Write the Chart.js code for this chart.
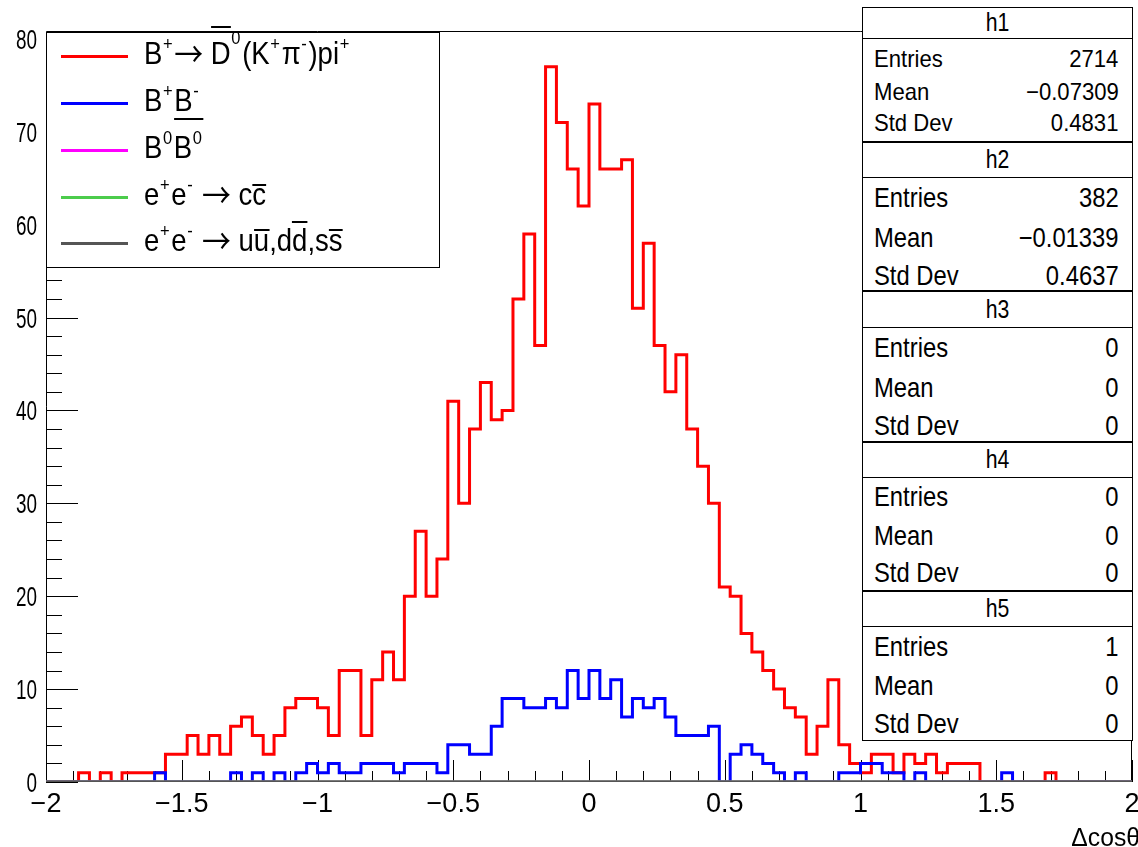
<!DOCTYPE html>
<html>
<head>
<meta charset="utf-8">
<title>Δcosθ</title>
<script src="https://cdn.jsdelivr.net/npm/chart.js@4.4.1/dist/chart.umd.min.js"></script>
<style>
  body { margin: 0; background: #fff; }
  #page { position: relative; width: 1138px; height: 847px; overflow: hidden; font-family: "Liberation Sans", Arial, sans-serif; color: #000; }
  #chart { position: absolute; left: 0; top: 0; }
  .box { position: absolute; background: #fff; border: 1.5px solid #000; box-sizing: border-box; }
  .legend-line { position: absolute; left: 61px; width: 67px; height: 3px; }
  .legend-text { position: absolute; left: 144px; font-size: 32px; line-height: 32px; white-space: nowrap; transform: scaleX(0.86); transform-origin: 0 50%; }
  sup { font-size: 60%; line-height: 0; vertical-align: 0; position: relative; top: -0.75em; margin: 0 0.1em 0 0.04em; }
  .arr { font-family: "Noto Sans CJK SC", "DejaVu Sans", sans-serif; font-size: 1.05em; line-height: 0; position: relative; top: 0.1em; }
  .bar { position: relative; }
  .bar::before { content: ""; position: absolute; left: 0; right: 0; top: var(--t); border-top: 2.5px solid #000; }
  .stat-title { position: absolute; left: 0; right: 0; top: 0; border-bottom: 1.5px solid #000; box-sizing: border-box; text-align: center; }
  .stat-title span, .stat-label, .stat-value { position: absolute; white-space: nowrap; }
</style>
</head>
<body>
<div id="page">
  <canvas id="chart" width="1138" height="847"></canvas>
</div>
<script>
// binning of all five histograms
const xMin = -2;
const xMax = 2;
const binWidth = 0.04;

// h1: B+ -> D0bar(K+ pi-) pi+
const h1Counts = [
  0, 0, 0, 1, 0, 1, 0, 1, 1, 1,
  1, 3, 3, 5, 3, 5, 3, 6, 7, 5,
  3, 5, 8, 9, 9, 8, 5, 12, 12, 5,
  11, 14, 11, 20, 27, 20, 24, 41, 30, 38,
  43, 39, 40, 52, 59, 47, 77, 71, 66, 62,
  73, 66, 66, 67, 51, 58, 47, 42, 46, 38,
  34, 30, 21, 20, 16, 14, 12, 10, 8, 7,
  3, 6, 11, 4, 2, 1, 3, 3, 1, 3,
  2, 3, 1, 2, 2, 2, 0, 0, 0, 0,
  0, 0, 1, 0, 0, 0, 0, 0, 0, 0
];

// h2: B+B-
const h2Counts = [
  0, 0, 0, 0, 0, 0, 0, 0, 0, 0,
  1, 0, 0, 0, 0, 0, 0, 1, 0, 1,
  0, 1, 0, 1, 2, 1, 2, 1, 1, 2,
  2, 2, 1, 2, 2, 2, 1, 4, 4, 3,
  3, 6, 9, 9, 8, 8, 9, 8, 12, 9,
  12, 9, 11, 7, 9, 8, 9, 7, 5, 5,
  5, 6, 0, 3, 4, 3, 2, 1, 0, 1,
  0, 0, 0, 1, 1, 2, 2, 1, 1, 0,
  1, 0, 0, 0, 0, 0, 0, 0, 1, 0,
  0, 0, 0, 0, 0, 0, 0, 0, 0, 0
];

// h3, h4, h5 stay on the baseline
const emptyCounts = [
  0, 0, 0, 0, 0, 0, 0, 0, 0, 0,
  0, 0, 0, 0, 0, 0, 0, 0, 0, 0,
  0, 0, 0, 0, 0, 0, 0, 0, 0, 0,
  0, 0, 0, 0, 0, 0, 0, 0, 0, 0,
  0, 0, 0, 0, 0, 0, 0, 0, 0, 0,
  0, 0, 0, 0, 0, 0, 0, 0, 0, 0,
  0, 0, 0, 0, 0, 0, 0, 0, 0, 0,
  0, 0, 0, 0, 0, 0, 0, 0, 0, 0,
  0, 0, 0, 0, 0, 0, 0, 0, 0, 0,
  0, 0, 0, 0, 0, 0, 0, 0, 0, 0
];

const histColors = ["#ff0000", "#0000ff", "#ff00ff", "#4ccc4c", "#555555"];
const legendLabels = [
  'B<sup>+</sup><span class="arr">&rarr;</span> <span class="bar" style="--t:-9px">D</span><sup style="top:-1.05em">0</sup>(K<sup>+</sup>&pi;<sup>-</sup>)pi<sup>+</sup>',
  'B<sup>+</sup>B<sup>-</sup>',
  'B<sup>0</sup><span class="bar" style="--t:-11px">B<sup>0</sup></span>',
  'e<sup>+</sup>e<sup>-</sup> <span class="arr">&rarr;</span> c<span class="bar" style="--t:8px">c</span>',
  'e<sup>+</sup>e<sup>-</sup> <span class="arr">&rarr;</span> u<span class="bar" style="--t:7px">u</span>,d<span class="bar" style="--t:-1px">d</span>,s<span class="bar" style="--t:7px">s</span>'
];

// stat box contents
const statNames = ["h1", "h2", "h3", "h4", "h5"];
const statEntries = ["2714", "382", "0", "0", "1"];
const statMeans = ["\u22120.07309", "\u22120.01339", "0", "0", "0"];
const statStdDevs = ["0.4831", "0.4637", "0", "0", "0"];

const xTickValues = [-2, -1.5, -1, -0.5, 0, 0.5, 1, 1.5, 2];
const xTickLabels = ["\u22122", "\u22121.5", "\u22121", "\u22120.5", "0", "0.5", "1", "1.5", "2"];
const yTickValues = [0, 10, 20, 30, 40, 50, 60, 70, 80];
const yTickLabels = ["0", "10", "20", "30", "40", "50", "60", "70", "80"];
const yMax = 80.85;

const page = document.getElementById("page");

// histogram outline: one point per left bin edge, closed at xMax
function histPoints(counts) {
  const pts = counts.map((c, i) => ({ x: xMin + i * binWidth, y: c }));
  pts.push({ x: xMax, y: counts[counts.length - 1] });
  return pts;
}

// ROOT-like frame with inward ticks, labels drawn slightly condensed
const rootAxes = {
  id: "rootAxes",
  beforeDatasetsDraw(chart) {
    const { ctx, chartArea: a, scales: { x, y } } = chart;
    ctx.save();
    ctx.strokeStyle = "#000";
    ctx.lineWidth = 1;
    ctx.beginPath();
    ctx.moveTo(a.left + 0.5, a.bottom);
    ctx.lineTo(a.left + 0.5, a.top + 0.5);
    ctx.lineTo(a.right - 0.5, a.top + 0.5);
    ctx.lineTo(a.right - 0.5, a.bottom);
    // x ticks every 0.1, long ones every 0.5
    for (let i = 0; i <= 40; i++) {
      const px = Math.round(x.getPixelForValue(xMin + i * 0.1)) + 0.5;
      const len = i % 5 === 0 ? 22 : 11;
      ctx.moveTo(px, a.bottom);
      ctx.lineTo(px, a.bottom - len);
    }
    // y ticks every 2, long ones every 10
    for (let v = 0; v <= 80; v += 2) {
      const py = Math.round(y.getPixelForValue(v)) + 0.5;
      const len = v % 10 === 0 ? 32 : 16;
      ctx.moveTo(a.left, py);
      ctx.lineTo(a.left + len, py);
    }
    ctx.stroke();
    ctx.restore();
  },
  afterDraw(chart) {
    const { ctx, scales: { x, y } } = chart;
    ctx.save();
    ctx.fillStyle = "#000";
    ctx.font = '27px "Liberation Sans", Arial, sans-serif';
    ctx.textAlign = "right";
    yTickValues.forEach((v, i) => {
      ctx.save();
      ctx.translate(37, y.getPixelForValue(v) + 10);
      ctx.scale(0.7, 1);
      ctx.fillText(yTickLabels[i], 0, 0);
      ctx.restore();
    });
    ctx.textAlign = "center";
    xTickValues.forEach((v, i) => {
      ctx.fillText(xTickLabels[i], x.getPixelForValue(v), 812);
    });
    ctx.font = '26px "Liberation Sans", Arial, sans-serif';
    ctx.textAlign = "right";
    ctx.save();
    ctx.translate(1140, 846);
    ctx.scale(0.95, 1);
    ctx.fillText("\u0394cos\u03b8", 0, 0);
    ctx.restore();
    ctx.restore();
  }
};

const histCounts = [h1Counts, h2Counts, emptyCounts, emptyCounts, emptyCounts];

new Chart(document.getElementById("chart"), {
  type: "line",
  data: {
    datasets: histCounts.map((counts, i) => ({
      label: statNames[i],
      data: histPoints(counts),
      borderColor: histColors[i],
      borderWidth: 3,
      // each bin's level runs from its left edge to the next edge
      stepped: "before",
      pointRadius: 0,
      fill: false,
      borderJoinStyle: "miter",
      borderCapStyle: "butt",
      order: 5 - i
    }))
  },
  options: {
    animation: false,
    responsive: false,
    devicePixelRatio: 1,
    layout: { padding: { left: 46, right: 6, top: 31, bottom: 65 } },
    plugins: { legend: { display: false }, tooltip: { enabled: false } },
    scales: {
      x: { type: "linear", min: xMin, max: xMax, display: false },
      y: { type: "linear", min: 0, max: yMax, display: false }
    }
  },
  plugins: [rootAxes]
});

// legend
const legendBox = document.createElement("div");
legendBox.className = "box";
Object.assign(legendBox.style, { left: "46px", top: "32px", width: "394px", height: "236px" });
page.appendChild(legendBox);

const legendLineY = [56, 103, 150, 197, 243];
legendLabels.forEach((html, i) => {
  const line = document.createElement("div");
  line.className = "legend-line";
  line.style.top = (legendLineY[i] - 1.5) + "px";
  line.style.background = histColors[i];
  page.appendChild(line);

  const text = document.createElement("div");
  text.className = "legend-text";
  text.style.top = (legendLineY[i] - 3.5 - 15.6) + "px";
  text.innerHTML = html;
  page.appendChild(text);
});

// stat boxes, stacked on the right
const statLayout = [
  { top: 7, height: 135, title: 32, rows: [52, 85, 116], size: 24, sx: 0.92 },
  { top: 142, height: 149, title: 36, rows: [56, 96, 134], size: 28, sx: 0.85 },
  { top: 291, height: 151, title: 37, rows: [57, 97, 135], size: 28, sx: 0.85 },
  { top: 442, height: 149, title: 36, rows: [55, 94, 131], size: 28, sx: 0.85 },
  { top: 591, height: 150, title: 36, rows: [56, 95, 133], size: 28, sx: 0.85 }
];

function addText(parent, cls, txt, size, sx, centerY, side) {
  const el = document.createElement("span");
  el.className = cls;
  el.textContent = txt;
  el.style.fontSize = size + "px";
  el.style.lineHeight = size + "px";
  el.style.top = (centerY - 0.4885 * size) + "px";
  el.style.transform = "scaleX(" + sx + ")";
  if (side === "left") {
    el.style.left = "10.5px";
    el.style.transformOrigin = "0 50%";
  } else {
    el.style.right = "13.5px";
    el.style.transformOrigin = "100% 50%";
  }
  parent.appendChild(el);
}

statLayout.forEach((b, i) => {
  const box = document.createElement("div");
  box.className = "box";
  Object.assign(box.style, { left: "862px", top: b.top + "px", width: "271px", height: b.height + "px" });

  const title = document.createElement("div");
  title.className = "stat-title";
  title.style.height = (b.title - 1.5) + "px";
  const t = document.createElement("span");
  t.textContent = statNames[i];
  t.style.fontSize = "25px";
  t.style.lineHeight = "25px";
  t.style.left = "0";
  t.style.right = "0";
  t.style.top = (b.title / 2 - 1.5 - 0.4885 * 25) + "px";
  t.style.transform = "scaleX(0.85)";
  title.appendChild(t);
  box.appendChild(title);

  const labels = ["Entries", "Mean", "Std Dev"];
  const values = [statEntries[i], statMeans[i], statStdDevs[i]];
  b.rows.forEach((cy, r) => {
    addText(box, "stat-label", labels[r], b.size, b.sx, cy - 1.5, "left");
    addText(box, "stat-value", values[r], b.size, b.sx, cy - 1.5, "right");
  });
  page.appendChild(box);
});
</script>
</body>
</html>
